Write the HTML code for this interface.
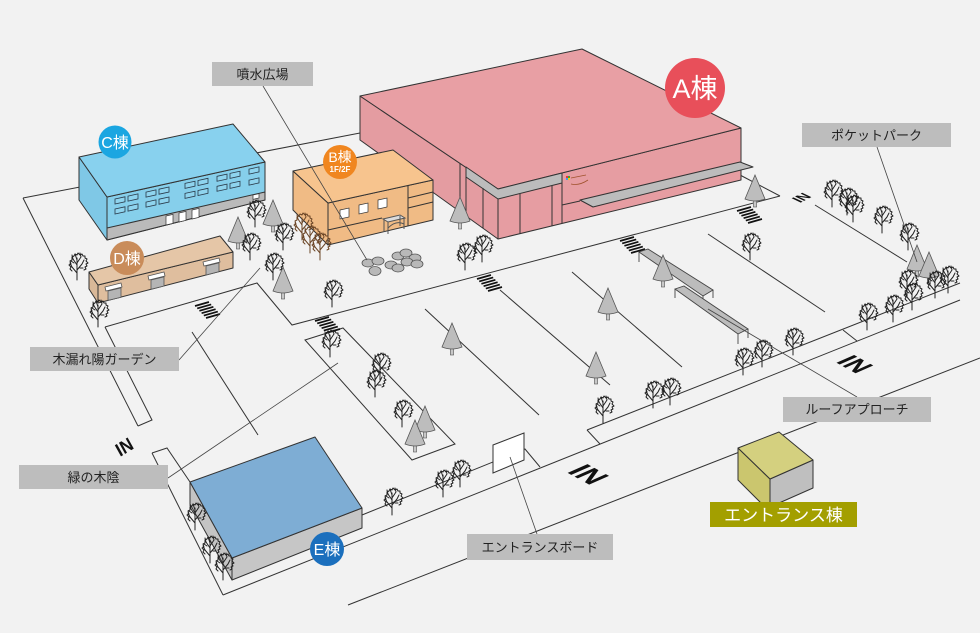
<!DOCTYPE html>
<html><head><meta charset="utf-8">
<style>
html,body{margin:0;padding:0;background:#f2f2f2;}
svg{display:block;}
text{font-family:"Liberation Sans","Noto Sans CJK JP",sans-serif;}
</style></head><body>
<svg width="980" height="633" viewBox="0 0 980 633" xmlns="http://www.w3.org/2000/svg">
<defs>
<g id="dt" fill="none" stroke="#222" stroke-width="1" stroke-linecap="round" stroke-linejoin="round">
 <path d="M0 0V-22M0 -7L-5 -13M0 -10L5 -16M0 -15L-4 -21M0 -17L4 -23M-5 -13L-7 -17M5 -16L7 -20M-4 -21L-5 -25M4 -23L3 -27M0 -20L-2 -26M-3 -17L-6 -19M3 -12L6 -12"/>
 <path d="M-5 -9l-2 -2 1 -2 -2 -2 2 -1 -1 -3 2 -1v-3l2 -1 1 -2 2 1 1 -2 2 2 2 -1 1 2h2v2l2 1 -1 2 2 2 -2 1 1 2 -2 1 1 2 -2 1"/>
</g>
<g id="bt" fill="none" stroke="#6b4526" stroke-width="1" stroke-linecap="round" stroke-linejoin="round">
 <path d="M0 0V-22M0 -7L-5 -13M0 -10L5 -16M0 -15L-4 -21M0 -17L4 -23M-5 -13L-7 -17M5 -16L7 -20M-4 -21L-5 -25M4 -23L3 -27"/>
 <path d="M-5 -9l-2 -2 1 -2 -2 -2 2 -1 -1 -3 2 -1v-3l2 -1 1 -2 2 1 1 -2 2 2 2 -1 1 2h2v2l2 1 -1 2 2 2 -2 1 1 2 -2 1 1 2 -2 1"/>
</g>
<g id="ct">
 <rect x="-1.6" y="23" width="3.2" height="9" fill="#c8c8c8" stroke="#555" stroke-width="0.6"/>
 <path d="M0 0L-10 24Q0 28 10 24Z" fill="#bdbdbd" stroke="#555" stroke-width="0.8"/>
</g>
</defs>
<rect width="980" height="633" fill="#f2f2f2"/>

<!-- roads -->
<g fill="none" stroke="#333" stroke-width="1">
<path d="M23,198 L360,133"/>
<path d="M23,198 L138,426"/>
<path d="M152,453 L223,595"/>
<path d="M152,453 L167,448 L190,482"/>
<path d="M105,327 L257,283 L292,325 L780,196"/>
<path d="M105,327 L152,420 L138,426"/>
<path d="M192,332 L258,435"/>
<path d="M305,340 L343,328 L455,444 L412,460 Z"/>
<path d="M425,309 L539,415"/>
<path d="M500,290 L610,385"/>
<path d="M572,272 L682,367"/>
<path d="M708,234 L825,312"/>
<path d="M740,175 L780,196"/>
<path d="M815,205 L907,262"/>
<path d="M587,430 L960,283"/>
<path d="M223,595 L960,300"/>
<path d="M587,430 L600,444"/>
<path d="M843,330 L857,341"/>
<path d="M362,515 L525,449 L540,467"/>
<path d="M348,605 L980,358"/>
</g>

<!-- crosswalks -->
<g stroke="#111" stroke-width="1.7" fill="none">
<path d="M195,306l14,-4M197.2,308.4l14,-4M199.4,310.8l14,-4M201.6,313.2l14,-4M203.8,315.6l14,-4M206,318l14,-4"/>
<path d="M315,321l14,-4M317.2,323.4l14,-4M319.4,325.8l14,-4M321.6,328.2l14,-4M323.8,330.6l14,-4M326,333l14,-4"/>
<path d="M477,279l14,-4M479.2,281.4l14,-4M481.4,283.8l14,-4M483.6,286.2l14,-4M485.8,288.6l14,-4M488,291l14,-4"/>
<path d="M620,241l14,-4M622.2,243.4l14,-4M624.4,245.8l14,-4M626.6,248.2l14,-4M628.8,250.6l14,-4M631,253l14,-4"/>
<path d="M737,211l14,-4M739.2,213.4l14,-4M741.4,215.8l14,-4M743.6,218.2l14,-4M745.8,220.6l14,-4M748,223l14,-4"/>
</g>

<!-- fountain stones -->
<g fill="#b8b8b8" stroke="#555" stroke-width="0.8">
<ellipse cx="398" cy="256" rx="6" ry="4"/>
<ellipse cx="406" cy="253" rx="6" ry="4"/>
<ellipse cx="415" cy="258" rx="6" ry="4"/>
<ellipse cx="368" cy="263" rx="6" ry="4"/>
<ellipse cx="378" cy="261" rx="6" ry="4"/>
<ellipse cx="391" cy="265" rx="6" ry="4"/>
<ellipse cx="407" cy="262" rx="6" ry="4"/>
<ellipse cx="417" cy="264" rx="6" ry="4"/>
<ellipse cx="398" cy="268" rx="6" ry="4"/>
<ellipse cx="375" cy="271" rx="6" ry="4.5"/>
</g>

<!-- buildings -->
<g stroke="#333" stroke-width="1" stroke-linejoin="round">
<!-- A -->
<polygon points="360,96 498,189 498,239 360,140" fill="#e49ca1"/>
<polygon points="498,189 741,128 741,180 498,239" fill="#e69da2"/>
<polygon points="360,96 582,49 741,128 498,189" fill="#e89fa4"/>
<polygon points="466,167 498,189 562,173 562,183 498,199 466,177" fill="#bcbcbc"/>
<polygon points="580,200 740,162 753,167 593,207" fill="#bcbcbc"/>
<path d="M460,163V212 M466,177V216 M483,188V228 M520,194V234 M552,186V226 M562,183V223 M562,205L580,201" fill="none"/>
<!-- C -->
<polygon points="79,157 107,197 107,240 79,200" fill="#7fc8e6"/>
<polygon points="107,197 265,162 265,200 107,240" fill="#86cfeb"/>
<polygon points="107,228 265,192 265,200 107,240" fill="#bababa"/>
<polygon points="79,157 233,124 265,162 107,197" fill="#88d1ee"/>
<!-- D -->
<polygon points="89,272 98,285 98,303 89,289" fill="#d9b898"/>
<polygon points="98,285 233,252 233,268 98,303" fill="#dfbe9e"/>
<polygon points="89,272 220,236 233,252 98,285" fill="#e5c6a7"/>
<!-- B -->
<polygon points="293,171 328,203 328,245 293,210" fill="#f0bb85"/>
<polygon points="328,203 433,180 433,220 328,245" fill="#f0bb85"/>
<polygon points="293,171 393,150 433,180 328,203" fill="#f7c48e"/>
<path d="M328,230 L382,218 M408,186V226 M408,198 L433,192 M408,208 L433,202" fill="none"/>
<!-- E -->
<polygon points="190,482 232,558 232,580 190,504" fill="#c4c4c4"/>
<polygon points="232,558 362,508 362,528 232,580" fill="#c6c6c6"/>
<polygon points="190,482 315,437 362,508 232,558" fill="#7eadd4"/>
<!-- Entrance -->
<polygon points="738,448 770,479 770,512 738,480" fill="#cbc66e"/>
<polygon points="770,479 813,460 813,488 770,507" fill="#bfbfbf"/>
<polygon points="738,448 779,432 813,460 770,479" fill="#d4d07f"/>
</g>

<!-- A logo -->
<rect x="566" y="176" width="2" height="2" fill="#e33"/>
<rect x="568" y="176" width="2" height="2" fill="#3a3"/>
<rect x="566" y="178" width="2" height="2" fill="#39f"/>
<rect x="568" y="178" width="2" height="2" fill="#fc0"/>
<path d="M571,178 L586,175 M571,184 Q579,186 588,180" stroke="#a0522d" stroke-width="0.8" fill="none"/>

<!-- C windows -->
<g fill="#8fd4ee" stroke="#2a3a4a" stroke-width="0.8">
<polygon points="115,199 125,196.8 125,201.8 115,204"/>
<polygon points="128,196.1 138,193.9 138,198.9 128,201.1"/>
<polygon points="146,192.1 156,189.9 156,194.9 146,197.1"/>
<polygon points="159,189.2 169,187 169,192 159,194.2"/>
<polygon points="185,183.4 195,181.2 195,186.2 185,188.4"/>
<polygon points="198,180.5 208,178.3 208,183.3 198,185.5"/>
<polygon points="217,176.3 227,174.1 227,179.1 217,181.3"/>
<polygon points="230,173.4 240,171.2 240,176.2 230,178.4"/>
<polygon points="249,169.1 259,166.9 259,171.9 249,174.1"/>
<polygon points="115,209 125,206.8 125,211.8 115,214"/>
<polygon points="128,206.1 138,203.9 138,208.9 128,211.1"/>
<polygon points="146,202.1 156,199.9 156,204.9 146,207.1"/>
<polygon points="159,199.2 169,197 169,202 159,204.2"/>
<polygon points="185,193.4 195,191.2 195,196.2 185,198.4"/>
<polygon points="198,190.5 208,188.3 208,193.3 198,195.5"/>
<polygon points="217,186.3 227,184.1 227,189.1 217,191.3"/>
<polygon points="230,183.4 240,181.2 240,186.2 230,188.4"/>
<polygon points="249,180.1 259,177.9 259,182.9 249,185.1"/>
</g>
<g fill="#fff" stroke="#333" stroke-width="0.7">
<polygon points="166,216 173,214.4 173,223.4 166,225"/>
<polygon points="179,213 186,211.4 186,220.4 179,222"/>
<polygon points="192,210 199,208.4 199,217.4 192,219"/>
<polygon points="253,195 259,193.6 259,198 253,199.4"/>
<!-- B windows -->
<polygon points="340,210 349,208 349,217 340,219"/>
<polygon points="359,205 368,203 368,212 359,214"/>
<polygon points="378,200 387,198 387,207 378,209"/>
</g>
<!-- B table -->
<g stroke="#555" stroke-width="1" fill="#dcdcdc">
<polygon points="383,219 400,215 405,218 388,222"/>
<path d="M384,220V232 M388,222V234 M404,218V229 M400,216V226 M388,228 Q396,220 404,224" fill="none"/>
</g>
<!-- D doors -->
<g stroke="#555" stroke-width="0.8">
<polygon points="108,291 121,287.8 121,297.3 108,300.4" fill="#b5b5b5"/>
<polygon points="106,291 122,287 121,283 105,287" fill="#fff"/>
<polygon points="151,280 164,276.8 164,286 151,289.3" fill="#b5b5b5"/>
<polygon points="149,280 165,276 164,272 148,276" fill="#fff"/>
<polygon points="206,266 219,262.8 219,271.6 206,275" fill="#b5b5b5"/>
<polygon points="204,266 220,262 219,258 203,262" fill="#fff"/>
</g>

<!-- roof approach canopy -->
<g stroke="#444" stroke-width="0.9">
<path d="M639,252V262 M703,296V304 M713,290V298 M675,289V298 M738,334V344 M748,329V338" fill="none"/>
<polygon points="639,252 648,249 713,290 703,296" fill="#bcbcbc"/>
<polygon points="675,289 684,286 748,329 738,334" fill="#bcbcbc"/>
</g>

<!-- entrance board -->
<polygon points="493,445 524,433 524,460 493,473" fill="#fff" stroke="#333" stroke-width="1"/>

<!-- conifers -->
<use href="#ct" x="238" y="217"/>
<use href="#ct" x="273" y="200"/>
<use href="#ct" x="283" y="267"/>
<use href="#ct" x="460" y="197"/>
<use href="#ct" x="755" y="175"/>
<use href="#ct" x="452" y="323"/>
<use href="#ct" x="608" y="288"/>
<use href="#ct" x="596" y="352"/>
<use href="#ct" x="663" y="255"/>
<use href="#ct" x="425" y="406"/>
<use href="#ct" x="415" y="420"/>
<use href="#ct" x="917" y="245"/>
<use href="#ct" x="929" y="252"/>

<!-- deciduous trees -->
<use href="#bt" x="302" y="240"/>
<use href="#bt" x="310" y="253"/>
<use href="#bt" x="320" y="260"/>
<use href="#dt" x="255" y="227"/>
<use href="#dt" x="250" y="260"/>
<use href="#dt" x="283" y="250"/>
<use href="#dt" x="273" y="280"/>
<use href="#dt" x="77" y="280"/>
<use href="#dt" x="98" y="327"/>
<use href="#dt" x="332" y="307"/>
<use href="#dt" x="330" y="357"/>
<use href="#dt" x="380" y="380"/>
<use href="#dt" x="375" y="397"/>
<use href="#dt" x="402" y="427"/>
<use href="#dt" x="465" y="270"/>
<use href="#dt" x="482" y="262"/>
<use href="#dt" x="750" y="260"/>
<use href="#dt" x="832" y="207"/>
<use href="#dt" x="847" y="215"/>
<use href="#dt" x="853" y="222"/>
<use href="#dt" x="882" y="233"/>
<use href="#dt" x="908" y="250"/>
<use href="#dt" x="907" y="297"/>
<use href="#dt" x="912" y="310"/>
<use href="#dt" x="935" y="298"/>
<use href="#dt" x="948" y="293"/>
<use href="#dt" x="867" y="330"/>
<use href="#dt" x="893" y="322"/>
<use href="#dt" x="743" y="375"/>
<use href="#dt" x="762" y="367"/>
<use href="#dt" x="793" y="355"/>
<use href="#dt" x="653" y="408"/>
<use href="#dt" x="670" y="405"/>
<use href="#dt" x="603" y="423"/>
<use href="#dt" x="195" y="530"/>
<use href="#dt" x="210" y="563"/>
<use href="#dt" x="223" y="580"/>
<use href="#dt" x="392" y="515"/>
<use href="#dt" x="443" y="497"/>
<use href="#dt" x="460" y="487"/>

<!-- IN markings -->
<g fill="#111" font-weight="bold">
<text transform="matrix(0.92,0.5,-1.07,0.47,566,472)" font-size="27">IN</text>
<text transform="matrix(0.92,0.5,-1.07,0.47,835,362)" font-size="24">IN</text>
<text transform="matrix(0.82,-0.5,0.5,0.9,120,457)" font-size="18">IN</text>
<text transform="matrix(0.87,-0.45,0.95,0.45,800,203)" font-size="14">IN</text>
</g>

<!-- leader lines -->
<g stroke="#444" stroke-width="0.8" fill="none">
<path d="M263,86 L367,260"/>
<path d="M877,147 L917,262"/>
<path d="M179,360 L260,268"/>
<path d="M168,478 L338,363"/>
<path d="M708,309 L857,397"/>
<path d="M510,457 L537,534"/>
</g>

<!-- labels -->
<g font-size="13" fill="#222" text-anchor="middle">
<rect x="212" y="62" width="101" height="24" fill="#bdbdbd"/>
<text x="262.5" y="79">噴水広場</text>
<rect x="802" y="123" width="149" height="24" fill="#bdbdbd"/>
<text x="876.5" y="140">ポケットパーク</text>
<rect x="30" y="347" width="149" height="24" fill="#bdbdbd"/>
<text x="104.5" y="364">木漏れ陽ガーデン</text>
<rect x="19" y="465" width="149" height="24" fill="#bdbdbd"/>
<text x="93.5" y="482">緑の木陰</text>
<rect x="783" y="397" width="148" height="25" fill="#bdbdbd"/>
<text x="857" y="414">ルーフアプローチ</text>
<rect x="467" y="534" width="146" height="26" fill="#bdbdbd"/>
<text x="540" y="552">エントランスボード</text>
<rect x="710" y="502" width="147" height="25" fill="#a39f00"/>
<text x="783.5" y="521" font-size="17" fill="#fff">エントランス棟</text>
</g>

<!-- circle labels -->
<g text-anchor="middle" fill="#fff">
<circle cx="695" cy="88" r="30" fill="#e84f5a"/>
<text x="695" y="98" font-size="27">A棟</text>
<circle cx="115" cy="142" r="16.5" fill="#1ba6e1"/>
<text x="115" y="148" font-size="16">C棟</text>
<circle cx="340" cy="162" r="17" fill="#f0861f"/>
<text x="340" y="162" font-size="14">B棟</text>
<text x="340" y="172" font-size="8" font-weight="bold">1F/2F</text>
<circle cx="127" cy="258" r="17" fill="#c98c5a"/>
<text x="127" y="264" font-size="16">D棟</text>
<circle cx="327" cy="549" r="17" fill="#1b6fbd"/>
<text x="327" y="555" font-size="16">E棟</text>
</g>
</svg>
</body></html>
